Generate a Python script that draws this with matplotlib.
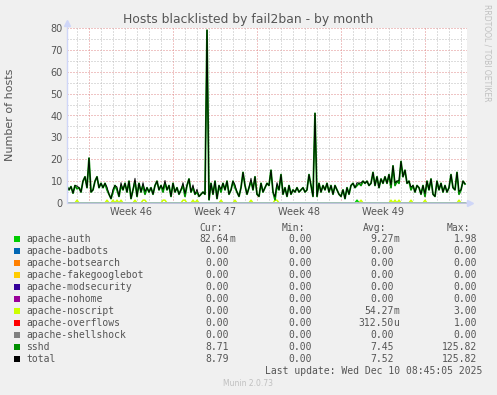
import numpy as np
import matplotlib
matplotlib.use("Agg")
import matplotlib.pyplot as plt
from matplotlib.patches import Rectangle

W, H = 497, 395

# ---- data (4-hour steps, 200 samples over ~33 days) ----
sshd = [
    7.5, 6, 7.5, 4.5, 8, 6.5, 7, 5, 10, 12,
    7, 20.5, 5, 6, 10, 12, 7, 9, 7, 9,
    6, 4, 2, 5, 8, 6, 3, 8, 6, 9,
    5, 10, 2, 6, 10, 3, 9, 5, 8, 4,
    7, 5, 7, 4, 8, 10, 6, 8, 5, 9,
    6, 8, 3, 9, 5, 7, 4, 6, 8, 3,
    8, 11, 5, 7, 4, 5, 3, 4, 5, 4,
    79, 1.5, 9, 4, 10, 2, 8, 5, 9, 6,
    10, 4, 6, 10, 7, 5, 3, 7, 14, 8,
    4, 7, 10, 6, 12, 4, 3, 9, 5, 7,
    9, 8, 15, 5, 1.5, 8, 6, 13, 4, 7,
    3, 8, 4, 6, 5, 7, 5, 6, 7, 5,
    6, 13, 8, 3, 41, 3, 9, 5, 8, 6,
    9, 5, 8, 4, 8, 6, 4, 3, 6, 2,
    7, 4, 8, 9, 7, 8, 9, 8, 10, 9,
    10, 8, 9, 14, 8, 12, 7, 11, 9, 12,
    9, 13, 7, 17, 8, 10, 9, 19, 12, 15,
    9, 10, 6, 8, 5, 8, 7, 4, 8, 3,
    10, 6, 11, 4, 3, 10, 6, 9, 5, 8,
    5, 7, 13, 7, 6, 14, 4, 6, 10, 8.7,
]
noscript_idx = [5, 20, 23, 25, 27, 34, 38, 39, 48, 49, 58, 59, 63, 65, 77, 84,
                92, 104, 105, 147, 162, 164, 166, 172, 179, 196]
noscript_val = [1.3] * len(noscript_idx)
auth_idx = [145]
auth_val = [1.3]

series_names = ["apache-auth", "apache-badbots", "apache-botsearch",
                "apache-fakegooglebot", "apache-modsecurity", "apache-nohome",
                "apache-noscript", "apache-overflows", "apache-shellshock",
                "sshd", "total"]
series_colors = ["#00CC00", "#0066B3", "#FF8000", "#FFCC00", "#330099",
                 "#990099", "#CCFF00", "#FF0000", "#808080", "#008F00", "#000000"]
cur_vals = ["82.64m", "0.00", "0.00", "0.00", "0.00", "0.00", "0.00", "0.00", "0.00", "8.71", "8.79"]
min_vals = ["0.00"] * 11
avg_vals = ["9.27m", "0.00", "0.00", "0.00", "0.00", "0.00", "54.27m", "312.50u", "0.00", "7.45", "7.52"]
max_vals = ["1.98", "0.00", "0.00", "0.00", "0.00", "0.00", "3.00", "1.00", "0.00", "125.82", "125.82"]

week_labels = ["Week 46", "Week 47", "Week 48", "Week 49"]
y_ticks = [0, 10, 20, 30, 40, 50, 60, 70, 80]

# ---- derived ----
n = len(sshd)
hours = np.arange(n) * 4.0
noscript = np.zeros(n)
noscript[noscript_idx] = noscript_val
auth = np.zeros(n)
auth[auth_idx] = auth_val
total = np.array(sshd) + noscript + auth

fig = plt.figure(figsize=(W / 100, H / 100), dpi=100, facecolor="#F0F0F0")
ax = fig.add_axes([67 / W, 1 - 203 / H, 400 / W, 175 / H])
ax.set_facecolor("white")
ax.set_xlim(0, 800)
ax.set_ylim(0, 80)
for s in ax.spines.values():
    s.set_visible(False)

minor_col = "#BDBDBD"
major_col = "#E08A8A"
dot = (0, (1, 2))
for y in range(5, 81, 5):
    ax.axhline(y, color=major_col if y % 10 == 0 else minor_col, lw=0.72, ls=dot, zorder=1)
for h in np.arange(20, 800, 24):
    is_major = (h - 44) % 168 == 0
    ax.axvline(h, color=major_col if is_major else minor_col, lw=0.72, ls=dot, zorder=1)

# series lines (zero-valued series are hidden beneath the axis line)
ax.plot(hours, noscript, color=series_colors[6], lw=1.1, zorder=3)
ax.plot(hours, auth, color=series_colors[0], lw=1.1, zorder=3)
ax.plot(hours, sshd, color=series_colors[9], lw=1.3, zorder=4)
ax.plot(hours, total, color=series_colors[10], lw=0.65, zorder=5)

# axes lines + arrows
axis_col = "#B8BCD8"
ax.plot([0, 806], [0, 0], color=axis_col, lw=1.2, zorder=6, clip_on=False,
        solid_capstyle="butt")
ax.plot([0, 0], [0, 82], color="#CFD6F8", lw=1.0, zorder=6, clip_on=False)
ax.plot([806], [0], marker=">", color="#CFD6F8", ms=4, zorder=7, clip_on=False)
ax.plot([0], [82.5], marker="^", color="#CFD6F8", ms=4, zorder=7, clip_on=False)

txt_col = "#555555"
ax.set_yticks(y_ticks)
ax.set_yticklabels([str(v) for v in y_ticks])
ax.set_xticks([128 + 168 * k for k in range(len(week_labels))])
ax.set_xticklabels(week_labels)
ax.tick_params(length=0, labelsize=7, colors=txt_col, pad=3)

def fx(x):
    return x / W

def fy(y):
    return 1 - y / H

fig.text(fx(248), fy(19), "Hosts blacklisted by fail2ban - by month", ha="center", va="center",
         fontsize=8.9, color=txt_col)
fig.text(fx(10), fy(115), "Number of hosts", rotation=90, ha="center", va="center",
         fontsize=8, color=txt_col)
fig.text(fx(487), fy(53), "RRDTOOL / TOBI OETIKER", rotation=270, ha="center", va="center",
         fontsize=5.5, color="#C0C0C0")

mono = "DejaVu Sans Mono"
fs = 7
hy = 227.7
for lab, x in zip(["Cur:", "Min:", "Avg:", "Max:"], [199, 282, 363, 447]):
    fig.text(fx(x), fy(hy), lab, ha="left", va="center", family=mono, fontsize=fs, color=txt_col)

def num_text(x_end, s, y):
    if s[-1].isalpha():
        num, suf = s[:-1], s[-1]
    else:
        num, suf = s, ""
    fig.text(fx(x_end), fy(y), num, ha="right", va="center", family=mono, fontsize=fs, color=txt_col)
    if suf:
        fig.text(fx(x_end), fy(y), suf, ha="left", va="center", family=mono, fontsize=fs, color=txt_col)

for k, name in enumerate(series_names):
    y = 239.3 + 12 * k
    fig.add_artist(Rectangle((fx(14), fy(y + 3)), 6 / W, 6 / H, transform=fig.transFigure,
                             facecolor=series_colors[k], edgecolor="none"))
    fig.text(fx(26), fy(y), name, ha="left", va="center", family=mono, fontsize=fs, color=txt_col)
    num_text(229, cur_vals[k], y)
    num_text(312, min_vals[k], y)
    num_text(393.5, avg_vals[k], y)
    num_text(477, max_vals[k], y)

fig.text(fx(482), fy(371), "Last update: Wed Dec 10 08:45:05 2025", ha="right", va="center",
         family=mono, fontsize=fs, color=txt_col)
fig.text(fx(248), fy(384), "Munin 2.0.73", ha="center", va="center", fontsize=5.5, color="#C0C0C0")

fig.savefig("out.png", dpi=100, facecolor=fig.get_facecolor())
